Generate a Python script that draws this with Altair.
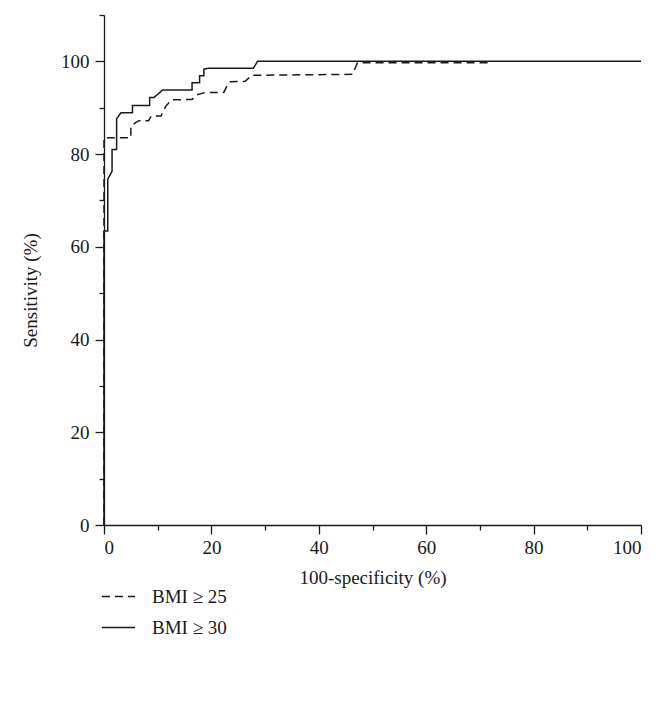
import altair as alt
import pandas as pd

# ROC curve points (100-specificity %, sensitivity %)
bmi30_x = [0, 0, 0.7, 0.7, 1.5, 1.5, 2.35, 2.35, 3.15, 5.3, 5.3, 8.5, 8.5, 9.3, 10.9,
           16.4, 16.4, 17.8, 17.8, 18.6, 18.6, 19.4, 27.8, 28.6, 100]
bmi30_y = [0, 63.4, 63.4, 74.6, 76.3, 81.0, 81.0, 87.6, 88.9, 88.9, 90.5, 90.5, 92.2, 92.2, 93.8,
           93.8, 95.4, 95.4, 96.9, 96.9, 98.3, 98.5, 98.5, 100, 100]

bmi25_x = [0, 0, 5.0, 5.0, 5.9, 6.5, 8.3, 8.8, 10.6, 11.5, 12.6, 16.4, 17.3, 18.9, 22.3,
           22.9, 23.5, 26.3, 27.5, 46.3, 47.2, 72.3]
bmi25_y = [0, 83.5, 83.5, 86.0, 86.8, 87.2, 87.2, 88.2, 88.2, 90.3, 91.7, 91.8, 92.8, 93.3, 93.3,
           94.7, 95.6, 95.7, 97.0, 97.2, 99.7, 99.7]

series = ["BMI \u2265 25", "BMI \u2265 30"]
x_ticks = list(range(0, 101, 10))
y_ticks = list(range(0, 111, 10))

rows = []
for i, (x, y) in enumerate(zip(bmi25_x, bmi25_y)):
    rows.append({"x": x, "y": y, "series": series[0], "i": i})
for i, (x, y) in enumerate(zip(bmi30_x, bmi30_y)):
    rows.append({"x": x, "y": y, "series": series[1], "i": i})
df = pd.DataFrame(rows)

FONT = "Liberation Serif"

x_axis = alt.Axis(
    values=x_ticks,
    labelExpr="datum.value % 20 == 0 ? datum.label : ''",
    tickSize={"condition": {"test": "datum.value % 20 != 0", "value": 5}, "value": 9},
    title="100-specificity (%)",
    grid=False,
    labelPadding=4,
    titlePadding=11,
)
y_axis = alt.Axis(
    values=y_ticks,
    labelExpr="datum.value % 20 == 0 && datum.value <= 100 ? datum.label : ''",
    tickSize={"condition": {"test": "datum.value % 20 != 0", "value": 5}, "value": 9},
    title="Sensitivity (%)",
    grid=False,
    labelPadding=6,
    titleX=-64,
    titleY=275,
)

chart = alt.Chart(df).mark_line(strokeWidth=1.5, color="#1a1a1a", clip=False).encode(
    x=alt.X("x:Q", scale=alt.Scale(domain=[0, 100], nice=False, zero=False), axis=x_axis),
    y=alt.Y("y:Q", scale=alt.Scale(domain=[0, 110], nice=False, zero=False), axis=y_axis),
    strokeDash=alt.StrokeDash(
        "series:N",
        scale=alt.Scale(domain=series, range=[[8, 5], [1, 0]]),
        legend=alt.Legend(
            title=None,
            orient="none",
            legendX=-3,
            legendY=564,
            direction="vertical",
            symbolType="stroke",
            symbolSize=1100,
            symbolStrokeWidth=1.5,
            symbolStrokeColor="#1a1a1a",
            labelFont=FONT,
            labelFontSize=19,
            labelColor="#1a1a1a",
            labelOffset=16,
            rowPadding=3,
        ),
    ),
    detail="series:N",
    order="i:Q",
).properties(
    width=537,
    height=510,
    autosize=alt.AutoSizeParams(type="none"),
    padding={"left": 96, "top": 7, "right": 20, "bottom": 171},
).configure_view(
    stroke=None
).configure_axis(
    labelFont=FONT,
    titleFont=FONT,
    labelFontSize=19,
    titleFontSize=19,
    titleFontWeight="normal",
    labelColor="#1a1a1a",
    titleColor="#1a1a1a",
    domainColor="#1a1a1a",
    tickColor="#1a1a1a",
    domainWidth=1.3,
    tickWidth=1.3,
)

chart.save("out.html", embed_options={"renderer": "svg", "actions": False})
